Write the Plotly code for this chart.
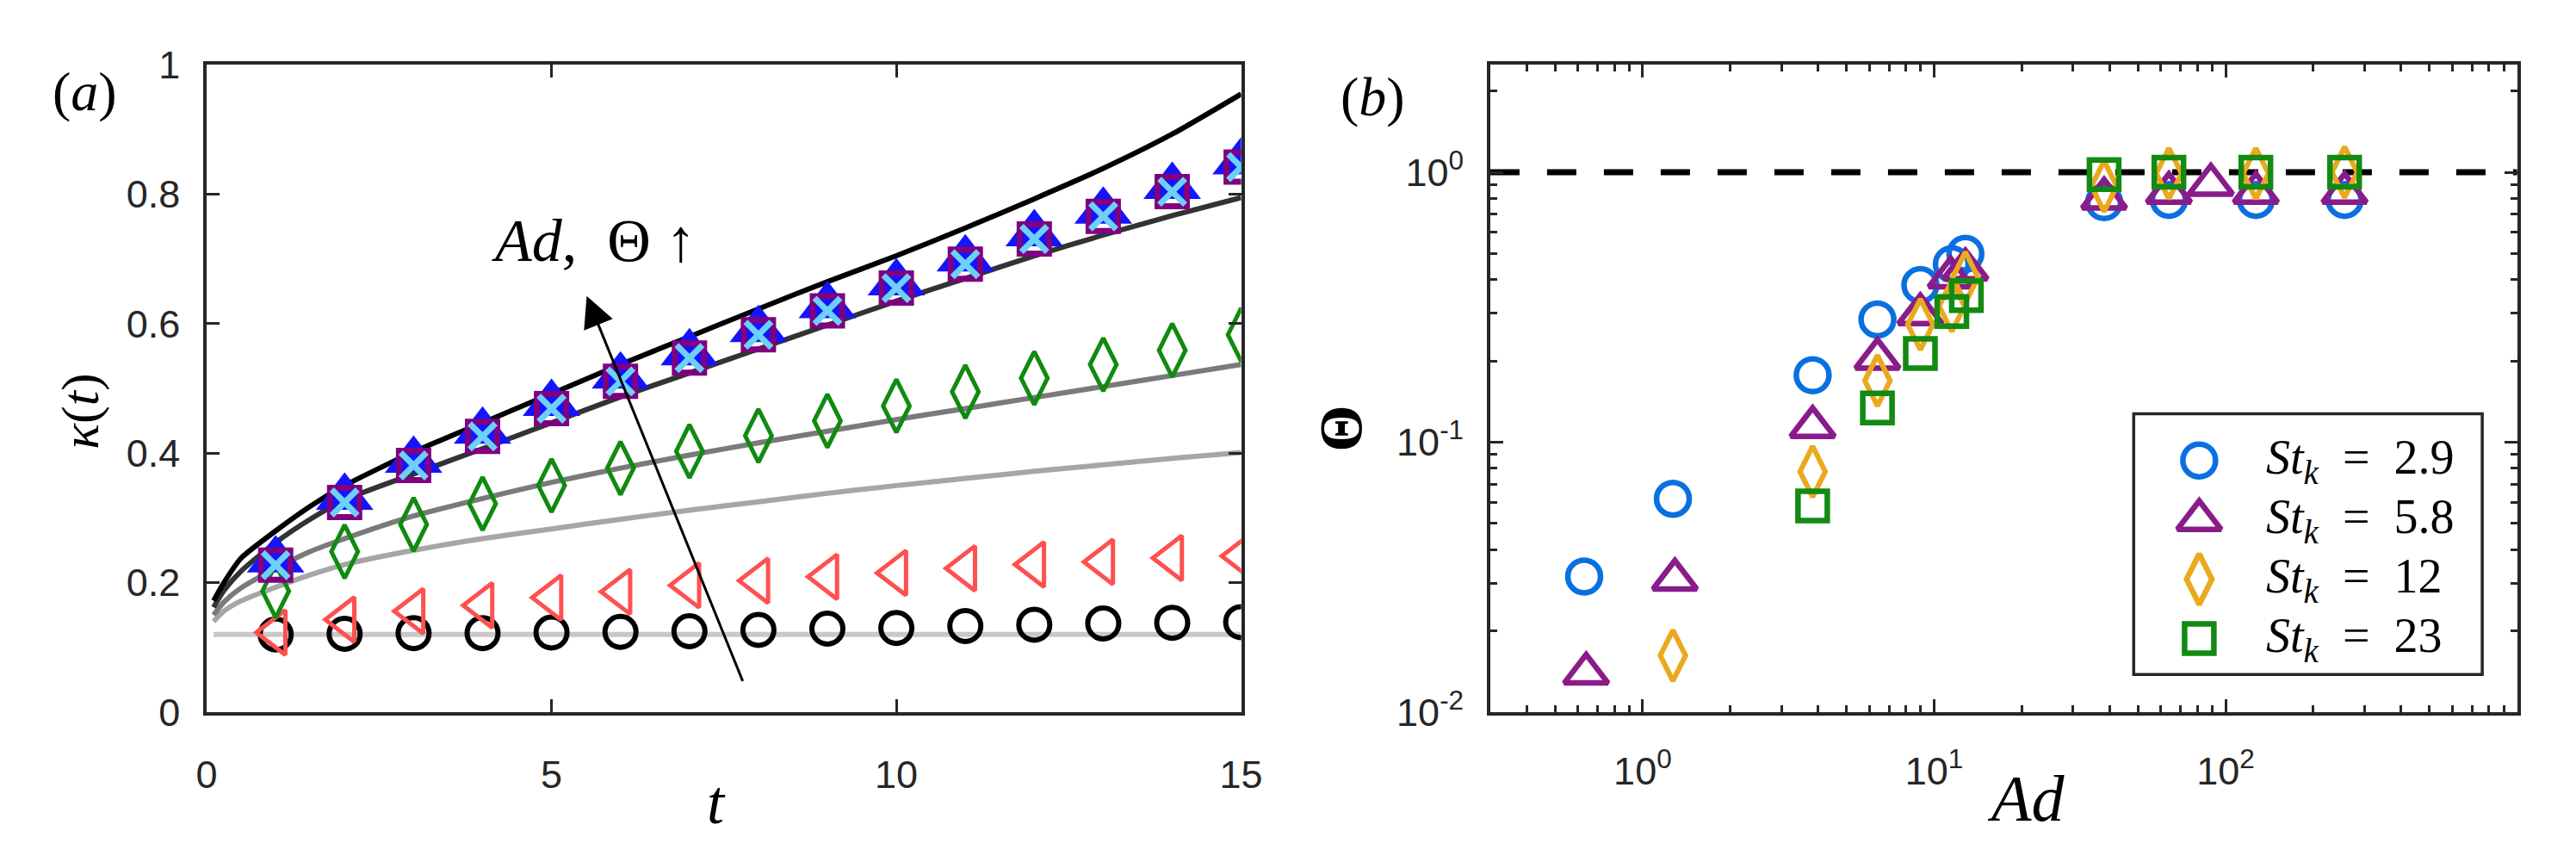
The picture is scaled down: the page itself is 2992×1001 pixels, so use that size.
import math
import plotly.graph_objects as go

W, H = 2992, 1001

# ---------------- Panel (a) data ----------------
T_MARK = [1, 2, 3, 4, 5, 6, 7, 8, 9, 10, 11, 12, 13, 14, 15]
KAPPA_CIRCLE = [0.120, 0.121, 0.122, 0.122, 0.123, 0.124, 0.125, 0.127, 0.129, 0.130,
                0.133, 0.135, 0.137, 0.138, 0.139]
KAPPA_TRI_LEFT = [0.123, 0.143, 0.156, 0.165, 0.177, 0.186, 0.196, 0.203, 0.209, 0.215,
                  0.222, 0.228, 0.232, 0.238, 0.241]
KAPPA_DIAMOND = [0.187, 0.248, 0.290, 0.322, 0.350, 0.377, 0.403, 0.427, 0.450, 0.473,
                 0.495, 0.516, 0.537, 0.559, 0.583]
KAPPA_TRIANGLE = [0.235, 0.332, 0.389, 0.434, 0.477, 0.519, 0.555, 0.591, 0.628, 0.663,
                  0.700, 0.739, 0.774, 0.812, 0.850]
KAPPA_SQUARE = [0.227, 0.324, 0.381, 0.426, 0.469, 0.511, 0.547, 0.583, 0.620, 0.655,
                0.692, 0.731, 0.766, 0.804, 0.842]
KAPPA_CROSS = [0.227, 0.324, 0.381, 0.426, 0.469, 0.511, 0.547, 0.583, 0.620, 0.655,
               0.692, 0.731, 0.766, 0.804, 0.842]

T_LINE = [0.1, 0.25, 0.5, 1, 1.5, 2, 3, 4, 5, 6, 7, 8, 9, 10, 11, 12, 13, 14, 15]
KAPPA_LINE_LIGHTEST = [0.120] * 19
KAPPA_LINE_LIGHT = [0.140, 0.156, 0.172, 0.193, 0.212, 0.228, 0.250, 0.268, 0.283, 0.298,
                    0.312, 0.325, 0.338, 0.350, 0.361, 0.372, 0.382, 0.392, 0.401]
KAPPA_LINE_MEDIUM = [0.150, 0.170, 0.192, 0.222, 0.248, 0.268, 0.303, 0.330, 0.355, 0.377,
                     0.397, 0.416, 0.434, 0.452, 0.469, 0.486, 0.503, 0.520, 0.537]
KAPPA_LINE_DARK = [0.162, 0.188, 0.218, 0.262, 0.298, 0.328, 0.368, 0.407, 0.447, 0.487,
                   0.524, 0.561, 0.598, 0.635, 0.670, 0.705, 0.737, 0.767, 0.795]
KAPPA_LINE_BLACK = [0.172, 0.200, 0.238, 0.280, 0.318, 0.350, 0.402, 0.447, 0.492, 0.537,
                    0.580, 0.623, 0.665, 0.705, 0.748, 0.793, 0.840, 0.893, 0.955]

ARROW_TAIL = (7.78, 0.046)
ARROW_HEAD = (5.51, 0.643)
ARROW_LABEL_POS = (5.61, 0.728)

# ---------------- Panel (b) data ----------------
AD_29 = [0.63, 1.27, 3.83, 6.39, 8.97, 11.5, 12.8, 38.3, 63.9, 127, 256]
THETA_29 = [0.0318, 0.0617, 0.177, 0.285, 0.382, 0.457, 0.499, 0.775, 0.79, 0.79, 0.79]
AD_58 = [0.64, 1.29, 3.83, 6.39, 8.97, 11.4, 12.8, 38.3, 63.9, 89, 127, 256]
THETA_58 = [0.0139, 0.031, 0.114, 0.204, 0.298, 0.408, 0.437, 0.80, 0.84, 0.90, 0.84, 0.84]
AD_12 = [1.27, 3.83, 6.39, 8.97, 11.5, 12.8, 38.3, 63.9, 127, 256]
THETA_12 = [0.0162, 0.0778, 0.169, 0.273, 0.319, 0.408, 0.887, 0.99, 0.99, 1.0]
AD_23 = [3.83, 6.39, 8.97, 11.5, 12.9, 38.3, 63.9, 127, 256]
THETA_23 = [0.0581, 0.134, 0.213, 0.305, 0.349, 0.98, 1.0, 1.0, 1.0]
REF_THETA = 1.0

EQ = "&#8194;=&#8194;"
LEGEND_LABELS = ["<i>St</i><sub><i>k</i></sub>" + EQ + "2.9",
                 "<i>St</i><sub><i>k</i></sub>" + EQ + "5.8",
                 "<i>St</i><sub><i>k</i></sub>" + EQ + "12",
                 "<i>St</i><sub><i>k</i></sub>" + EQ + "23"]

X2_TICKS = [1, 10, 100]
X2_TICKTEXT = ["10<sup>0</sup>", "10<sup>1</sup>", "10<sup>2</sup>"]
X2_MINOR = [0.4, 0.5, 0.6, 0.7, 0.8, 0.9, 2, 3, 4, 5, 6, 7, 8, 9,
            20, 30, 40, 50, 60, 70, 80, 90, 200, 300, 400, 500, 600, 700, 800, 900]
Y2_TICKS = [0.01, 0.1, 1]
Y2_TICKTEXT = ["10<sup>-2</sup>", "10<sup>-1</sup>", "10<sup>0</sup>"]
Y2_MINOR = [0.02, 0.03, 0.04, 0.05, 0.06, 0.07, 0.08, 0.09,
            0.2, 0.3, 0.4, 0.5, 0.6, 0.7, 0.8, 0.9, 2]
X1_TICKS = [0, 5, 10, 15]
Y1_TICKS = [0, 0.2, 0.4, 0.6, 0.8, 1]
Y1_TICKTEXT = ["0", "0.2", "0.4", "0.6", "0.8", "1"]

# ---------------- styles ----------------
AX = "#262626"
SERIF = "Liberation Serif"
SANS = "Liberation Sans"
C_BLUE = "#0a70e0"
C_PURPLE = "#891c8a"
C_ORANGE = "#eaa91e"
C_GREEN = "#138a12"

fig = go.Figure()

# grey model lines (panel a)
for vals, col in [(KAPPA_LINE_LIGHTEST, "#c8c8c8"), (KAPPA_LINE_LIGHT, "#a6a6a6"),
                  (KAPPA_LINE_MEDIUM, "#7a7a7a"), (KAPPA_LINE_DARK, "#333333"),
                  (KAPPA_LINE_BLACK, "#000000")]:
    fig.add_trace(go.Scatter(x=T_LINE, y=vals, mode="lines", xaxis="x", yaxis="y",
                             line=dict(color=col, width=6, shape="spline", smoothing=0.6),
                             showlegend=False, hoverinfo="skip"))

def mk(x, y, symbol, color, size, lw, xa="x", ya="y"):
    fig.add_trace(go.Scatter(x=x, y=y, mode="markers", xaxis=xa, yaxis=ya, showlegend=False,
                             marker=dict(symbol=symbol, color=color, size=size,
                                         line=dict(color=color, width=lw))))

mk(T_MARK, KAPPA_CIRCLE, "circle-open", "#000000", 36, 6)
mk(T_MARK, KAPPA_TRI_LEFT, "triangle-left-open", "#ff5050", 45, 5)
mk(T_MARK, KAPPA_DIAMOND, "diamond-tall-open", "#108a10", 44, 5)
mk(T_MARK, KAPPA_TRIANGLE, "triangle-up", "#1414ff", 58, 0)
mk(T_MARK, KAPPA_SQUARE, "square-open", "#800080", 34, 7)
mk(T_MARK, KAPPA_CROSS, "x-thin-open", "#6dd0f7", 30, 7)

# panel b markers
mk(AD_29, THETA_29, "circle-open", C_BLUE, 38, 6.5, "x2", "y2")
mk(AD_58, THETA_58, "triangle-up-open", C_PURPLE, 44, 6.5, "x2", "y2")
mk(AD_12, THETA_12, "diamond-tall-open", C_ORANGE, 42, 6, "x2", "y2")
mk(AD_23, THETA_23, "square-open", C_GREEN, 34, 6.5, "x2", "y2")

# custom legend markers (hidden axis x3/y3 laid over the legend box)
for i, (sym, col, sz) in enumerate([("circle-open", C_BLUE, 38), ("triangle-up-open", C_PURPLE, 44),
                                    ("diamond-tall-open", C_ORANGE, 42), ("square-open", C_GREEN, 34)]):
    fig.add_trace(go.Scatter(x=[0.188], y=[i], mode="markers", xaxis="x3", yaxis="y3",
                             showlegend=False, hoverinfo="skip",
                             marker=dict(symbol=sym, color=col, size=sz,
                                         line=dict(color=col, width=6.5))))

axis_common = dict(showline=True, linecolor=AX, linewidth=3.5, mirror="ticks",
                   ticks="inside", ticklen=15, tickwidth=3, tickcolor=AX,
                   showgrid=False, zeroline=False,
                   tickfont=dict(family=SANS, size=45, color=AX))

ydom = [1 - 845 / H, 1 - 53 / H]
LEG = (2497, 2907, 480, 799)

fig.update_layout(
    width=W, height=H, margin=dict(l=0, r=0, t=0, b=0),
    paper_bgcolor="white", plot_bgcolor="white", showlegend=False,
    xaxis=dict(domain=[230 / W, 1447 / W], range=[0, 15], anchor="y",
               tickvals=X1_TICKS, ticklabelstandoff=30, **axis_common),
    yaxis=dict(domain=ydom, range=[0, 1], anchor="x", tickvals=Y1_TICKS,
               ticktext=Y1_TICKTEXT, ticklabelstandoff=18, **axis_common),
    xaxis2=dict(domain=[1740 / W, 2948 / W], type="log", range=[math.log10(0.3), 3],
                anchor="y2", tickvals=X2_TICKS, ticktext=X2_TICKTEXT, ticklabelstandoff=26,
                minor=dict(tickvals=X2_MINOR, ticks="inside", ticklen=8, tickwidth=3,
                           tickcolor=AX),
                **axis_common),
    yaxis2=dict(domain=ydom, type="log", range=[-2, math.log10(2.5)], anchor="x2",
                tickvals=Y2_TICKS, ticktext=Y2_TICKTEXT, ticklabelstandoff=18,
                minor=dict(tickvals=Y2_MINOR, ticks="inside", ticklen=8, tickwidth=3,
                           tickcolor=AX),
                **axis_common),
    xaxis3=dict(domain=[LEG[0] / W, LEG[1] / W], range=[0, 1], visible=False,
                anchor="y3", fixedrange=True),
    yaxis3=dict(domain=[1 - LEG[3] / H, 1 - LEG[2] / H], range=[3.606, -0.786],
                visible=False, anchor="x3", fixedrange=True),
)

# dashed reference line Theta = 1
fig.add_shape(type="line", xref="x2 domain", yref="y2", x0=0, x1=1, y0=REF_THETA, y1=REF_THETA,
              line=dict(color="black", width=7, dash="34px,32px"), layer="below")
# legend box
fig.add_shape(type="rect", xref="paper", yref="paper", x0=LEG[0] / W, x1=LEG[1] / W,
              y0=1 - LEG[3] / H, y1=1 - LEG[2] / H, line=dict(color=AX, width=3.5),
              fillcolor="rgba(0,0,0,0)", layer="above")

for i, lab in enumerate(LEGEND_LABELS):
    fig.add_annotation(xref="x3", yref="y3", x=0.375, y=i, text=lab, showarrow=False,
                       xanchor="left", yanchor="middle",
                       font=dict(family=SERIF, size=56, color="black"))

# arrow in panel a
fig.add_annotation(xref="x", yref="y", axref="x", ayref="y", x=ARROW_HEAD[0], y=ARROW_HEAD[1],
                   ax=ARROW_TAIL[0], ay=ARROW_TAIL[1], text="", showarrow=True,
                   arrowhead=2, arrowsize=2.4, arrowwidth=3, arrowcolor="black", standoff=0)
fig.add_annotation(xref="x", yref="y", x=ARROW_LABEL_POS[0], y=ARROW_LABEL_POS[1],
                   text="<i>Ad</i>,  Θ ↑", showarrow=False,
                   font=dict(family=SERIF, size=70, color="black"))

# panel labels and axis titles
def ptext(px, py, text, size, angle=0):
    fig.add_annotation(xref="paper", yref="paper", x=px / W, y=1 - py / H, text=text,
                       showarrow=False, textangle=angle, xanchor="center", yanchor="middle",
                       font=dict(family=SERIF, size=size, color="black"))

ptext(87, 86, "(<i>a</i>)", 64)
ptext(1602, 92, "(<i>b</i>)", 64)
ptext(82, 477, "<i>κ</i>(<i>t</i>)", 62, -90)
ptext(830, 956, "<i>t</i>", 72)
ptext(2370, 950, "<i>Ad</i>", 76)
ptext(1564, 498, "<b>Θ</b>", 70, -90)

fig.write_html("out.html", config={"displayModeBar": False},
               post_script="document.body.style.margin='0';document.body.style.overflow='hidden';")
